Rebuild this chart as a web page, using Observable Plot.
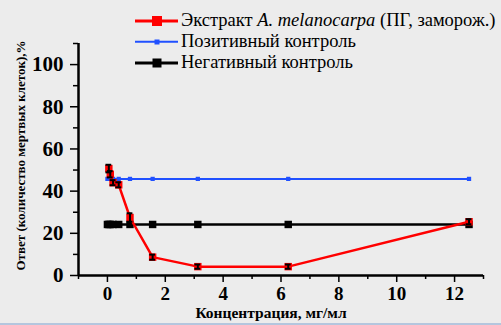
<!DOCTYPE html>
<html>
<head>
<meta charset="utf-8">
<script src="https://cdn.jsdelivr.net/npm/d3@7"></script>
<script src="https://cdn.jsdelivr.net/npm/@observablehq/plot@0.6"></script>
<style>
  html, body { margin: 0; padding: 0; background: #ececec; }
  #wrap { position: relative; width: 501px; height: 325px; overflow: hidden; background: #ececec; }
  #edge { position: absolute; left: 0; top: 323px; width: 501px; height: 2px; background: #b4c6de; z-index: 0; }
  #chart { position: absolute; left: 0; top: 0; z-index: 1; }
  #chart svg text { font-family: "Liberation Serif", "Times New Roman", "DejaVu Serif", serif; }
  #legend { position: absolute; left: 135px; top: 10px; z-index: 2; font-family: "Liberation Serif", "Times New Roman", "DejaVu Serif", serif; font-size: 18.5px; color: #000; }
  .row { display: flex; align-items: center; height: 21px; white-space: nowrap; }
  .sw { position: relative; width: 43px; height: 12px; margin-right: 3px; flex: none; }
  .sw .ln { position: absolute; left: 0; right: 0; top: 50%; transform: translateY(-50%); }
  .sw .mk { position: absolute; left: 50%; top: 50%; transform: translate(-50%, -50%); }
</style>
</head>
<body>
<div id="wrap">
  <div id="edge"></div>
  <div id="chart"></div>
  <div id="legend"></div>
</div>
<script>
// Data
const extractX = [0.049, 0.098, 0.195, 0.39, 0.78, 1.5625, 3.125, 6.25, 12.5];
const extractY = [50.7, 48, 44, 43, 27.5, 8.7, 4.2, 4.2, 25.5];
const extractErr = [1.8, 1.5, 1.2, 1.2, 2, 1.2, 1, 1, 1.2];
const posX = [0, 0.098, 0.195, 0.39, 0.78, 1.5625, 3.125, 6.25, 12.5];
const posY = [45.8, 45.8, 45.8, 45.8, 45.8, 45.8, 45.8, 45.8, 45.8];
const negX = [0, 0.049, 0.098, 0.195, 0.39, 0.78, 1.5625, 3.125, 6.25, 12.5];
const negY = [24.2, 24.2, 24.2, 24.2, 24.2, 24.2, 24.2, 24.2, 24.2, 24.2];
const xMajor = [0, 2, 4, 6, 8, 10, 12];
const xMinor = [-1, 1, 3, 5, 7, 9, 11, 13];
const yMajor = [0, 20, 40, 60, 80, 100];
const yMinor = [10, 30, 50, 70, 90, 110];
const seriesNames = ["Экстракт ", "Позитивный контроль", "Негативный контроль"];

const extract = extractX.map((x, i) => ({x, y: extractY[i], e: extractErr[i]}));
const pos = posX.map((x, i) => ({x, y: posY[i]}));
const neg = negX.map((x, i) => ({x, y: negY[i]}));

const RED = "#ff0000", BLUE = "#2050ff", BLACK = "#000000";
const capHalf = 0.1; // error-bar cap half-width in x units

const chart = Plot.plot({
  width: 501,
  height: 325,
  marginLeft: 78,
  marginRight: 18,
  marginTop: 43,
  marginBottom: 50,
  style: {background: "transparent", fontFamily: "'Liberation Serif', 'Times New Roman', 'DejaVu Serif', serif", color: "#000"},
  x: {type: "linear", domain: [-1, 13]},
  y: {type: "linear", domain: [0, 110]},
  marks: [
    Plot.axisX({ticks: xMinor, tickSize: 4, tickFormat: () => "", strokeWidth: 1.5, label: null}),
    Plot.axisX({ticks: xMajor, tickSize: 7, tickPadding: 4, strokeWidth: 1.5, fontSize: 19, fontWeight: "bold", label: null}),
    Plot.axisY({ticks: yMinor, tickSize: 5, tickFormat: () => "", strokeWidth: 1.5, label: null}),
    Plot.axisY({ticks: yMajor, tickSize: 8, tickPadding: 7, strokeWidth: 1.5, fontSize: 21, fontWeight: "bold", label: null}),
    Plot.ruleY([0], {stroke: BLACK, strokeWidth: 2.5}),
    Plot.ruleX([-1], {stroke: BLACK, strokeWidth: 2.5}),
    Plot.text(["Концентрация, мг/мл"], {frameAnchor: "bottom", dy: 42, fontSize: 15.5, fontWeight: "bold", dx: -10}),
    Plot.text(["Ответ (количество мертвых клеток),%"], {frameAnchor: "left", textAnchor: "middle", rotate: -90, dx: -58, dy: -4, fontSize: 13, fontWeight: "bold"}),
    // negative control
    Plot.line(neg, {x: "x", y: "y", stroke: BLACK, strokeWidth: 2.5}),
    Plot.dot(neg, {x: "x", y: "y", symbol: "square", r: 4.2, fill: BLACK}),
    // positive control
    Plot.line(pos, {x: "x", y: "y", stroke: BLUE, strokeWidth: 2}),
    Plot.dot(pos, {x: "x", y: "y", symbol: "square", r: 2.4, fill: BLUE}),
    // extract
    Plot.line(extract, {x: "x", y: "y", stroke: RED, strokeWidth: 2.5}),
    Plot.dot(extract, {x: "x", y: "y", symbol: "square", r: 4.2, fill: RED}),
    Plot.ruleX(extract, {x: "x", y1: d => d.y - d.e, y2: d => d.y + d.e, stroke: BLACK, strokeWidth: 2}),
    Plot.ruleY(extract, {y: d => d.y + d.e, x1: d => d.x - capHalf, x2: d => d.x + capHalf, stroke: BLACK, strokeWidth: 2}),
    Plot.ruleY(extract, {y: d => d.y - d.e, x1: d => d.x - capHalf, x2: d => d.x + capHalf, stroke: BLACK, strokeWidth: 2})
  ]
});
document.getElementById("chart").appendChild(chart);

// Legend
const legendItems = [
  {label: seriesNames[0], color: RED, lw: 3, ms: 10},
  {label: seriesNames[1], color: BLUE, lw: 2.5, ms: 5},
  {label: seriesNames[2], color: BLACK, lw: 3, ms: 9}
];
const legend = document.getElementById("legend");
legendItems.forEach((d, i) => {
  const row = document.createElement("div");
  row.className = "row";
  const sw = document.createElement("div");
  sw.className = "sw";
  sw.innerHTML = `<div class="ln" style="height:${d.lw}px;background:${d.color}"></div><div class="mk" style="width:${d.ms}px;height:${d.ms}px;background:${d.color}"></div>`;
  row.appendChild(sw);
  const t = document.createElement("span");
  if (i === 0) {
    t.innerHTML = d.label + "<i>A. melanocarpa</i> (ПГ, заморож.)";
  } else {
    t.textContent = d.label;
  }
  row.appendChild(t);
  legend.appendChild(row);
});
</script>
</body>
</html>
